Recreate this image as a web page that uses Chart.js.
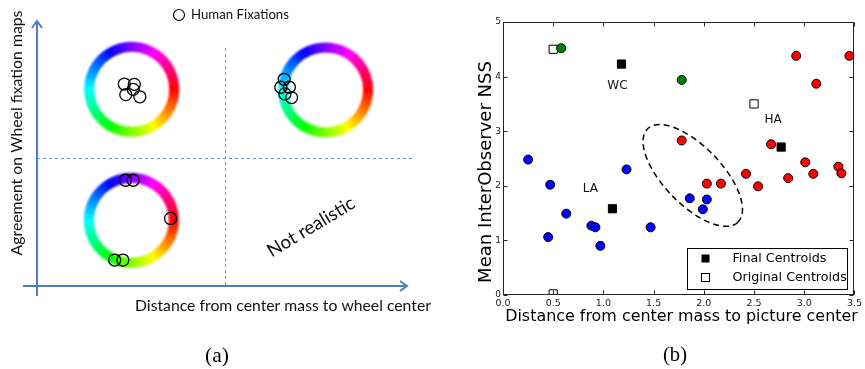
<!DOCTYPE html>
<html>
<head>
<meta charset="utf-8">
<script src="https://cdn.jsdelivr.net/npm/chart.js@4.4.1/dist/chart.umd.min.js"></script>
<style>
  body { margin: 0; background: #fff; }
  #wrap { position: relative; width: 865px; height: 369px; overflow: hidden; }
  canvas { position: absolute; top: 0; }
  #chartA { left: 0; }
  #chartB { left: 450px; }
</style>
</head>
<body>
<div id="wrap">
  <canvas id="chartA" width="450" height="369"></canvas>
  <canvas id="chartB" width="415" height="369"></canvas>
</div>
<script>
// ---- panel (a): schematic, diagram units 0..10 on both axes
const quadSplitX = 5.08;
const quadSplitY = 4.83;
const wheelX = [2.56, 7.80, 2.55];
const wheelY = [7.42, 7.40, 2.48];
const fixX = [2.36, 2.63, 2.40, 2.60, 2.78, 6.68, 6.59, 6.82, 6.70, 6.88, 2.39, 2.60, 3.61, 2.10, 2.32];
const fixY = [7.62, 7.61, 7.22, 7.42, 7.14, 7.80, 7.50, 7.50, 7.25, 7.11, 3.99, 3.99, 2.55, 0.98, 0.98];

// ---- panel (b): scatter
const redX = [2.92, 3.45, 3.12, 1.78, 2.67, 3.01, 3.34, 3.37, 3.09, 2.84, 2.42, 2.03, 2.17, 2.54];
const redY = [4.38, 4.38, 3.87, 2.83, 2.76, 2.43, 2.35, 2.23, 2.22, 2.14, 2.22, 2.04, 2.04, 1.99];
const blueX = [0.25, 1.23, 0.47, 0.63, 1.86, 2.03, 1.99, 0.88, 0.92, 1.47, 0.45, 0.97];
const blueY = [2.48, 2.30, 2.02, 1.49, 1.77, 1.75, 1.57, 1.27, 1.24, 1.24, 1.06, 0.90];
const greenX = [0.58, 1.78];
const greenY = [4.52, 3.94];
const finalX = [1.18, 2.77, 1.09];
const finalY = [4.23, 2.71, 1.58];
const origX = [0.50, 2.50, 0.50];
const origY = [4.50, 3.50, 0.02];
const clusterNames = ['WC', 'HA', 'LA'];
const clusterLabelX = [1.14, 2.69, 0.87];
const clusterLabelY = [3.83, 3.20, 1.94];
const ellipseCenter = [1.89, 2.19];
const xMax = 3.5, xStep = 0.5;
const yMax = 5, yStep = 1;

function pts(xs, ys) {
  return xs.map((x, i) => ({ x: x, y: ys[i] }));
}

function fitText(ctx, text, x, y, width, family) {
  ctx.font = '100px ' + family;
  const size = 100 * width / ctx.measureText(text).width;
  ctx.font = size + 'px ' + family;
  ctx.fillText(text, x, y);
}

function drawWheel(ctx, cx, cy) {
  const g = ctx.createConicGradient(0, cx, cy);
  for (let i = 0; i <= 12; i++) g.addColorStop(i / 12, `hsl(${i * 30}, 100%, 50%)`);
  ctx.save();
  ctx.filter = 'blur(0.8px)';
  ctx.beginPath();
  ctx.arc(cx, cy, 47.5, 0, Math.PI * 2);
  ctx.arc(cx, cy, 37.5, 0, Math.PI * 2, true);
  ctx.fillStyle = g;
  ctx.fill();
  ctx.restore();
}

const schematicPlugin = {
  id: 'schematic',
  beforeDatasetsDraw(chart) {
    const { ctx, chartArea: a, scales: { x, y } } = chart;
    ctx.save();
    // quadrant dividers
    ctx.strokeStyle = '#5b95d8';
    ctx.lineWidth = 1;
    ctx.setLineDash([3, 3]);
    const vx = Math.round(x.getPixelForValue(quadSplitX)) + 0.5;
    const hy = Math.round(y.getPixelForValue(quadSplitY)) + 0.5;
    ctx.beginPath();
    ctx.moveTo(vx, a.top + 27);
    ctx.lineTo(vx, a.bottom);
    ctx.moveTo(a.left, hy);
    ctx.lineTo(a.right + 5, hy);
    ctx.stroke();
    ctx.setLineDash([]);

    for (let i = 0; i < wheelX.length; i++) {
      drawWheel(ctx, x.getPixelForValue(wheelX[i]), y.getPixelForValue(wheelY[i]));
    }

    // axes with arrow heads
    ctx.strokeStyle = '#4a7fc1';
    ctx.lineWidth = 2;
    ctx.beginPath();
    ctx.moveTo(a.left, a.bottom + 10);
    ctx.lineTo(a.left, a.top);
    ctx.moveTo(a.left - 5, a.top + 7);
    ctx.lineTo(a.left, a.top);
    ctx.lineTo(a.left + 5, a.top + 7);
    ctx.moveTo(a.left - 14, a.bottom);
    ctx.lineTo(a.right, a.bottom);
    ctx.moveTo(a.right - 7, a.bottom - 5);
    ctx.lineTo(a.right, a.bottom);
    ctx.lineTo(a.right - 7, a.bottom + 5);
    ctx.stroke();

    // texts
    ctx.fillStyle = '#111';
    ctx.textBaseline = 'middle';
    ctx.textAlign = 'left';
    fitText(ctx, 'Human Fixations', 191, 15, 98, 'Lato');
    ctx.beginPath();
    ctx.lineWidth = 1.2;
    ctx.strokeStyle = '#000';
    ctx.arc(179, 15, 5.5, 0, Math.PI * 2);
    ctx.stroke();

    ctx.textAlign = 'center';
    fitText(ctx, 'Distance from center mass to wheel center', 283, 306, 296, 'Lato');

    ctx.save();
    ctx.translate(17, 133);
    ctx.rotate(-Math.PI / 2);
    fitText(ctx, 'Agreement on Wheel fixation maps', 0, 0, 245, 'Lato');
    ctx.restore();

    ctx.save();
    ctx.translate(311, 227);
    ctx.rotate(-31 * Math.PI / 180);
    fitText(ctx, 'Not realistic', 0, 0, 99, 'Lato');
    ctx.restore();

    ctx.fillStyle = '#000';
    fitText(ctx, '(a)', 217, 356, 24, '"Liberation Serif"');
    ctx.restore();
  }
};

new Chart(document.getElementById('chartA'), {
  type: 'scatter',
  data: {
    datasets: [{
      label: 'Human Fixations',
      data: pts(fixX, fixY),
      pointStyle: 'circle',
      pointRadius: 6,
      backgroundColor: 'rgba(0,0,0,0)',
      borderColor: '#000',
      borderWidth: 1.3,
      clip: false
    }]
  },
  options: {
    responsive: false,
    animation: false,
    devicePixelRatio: 1,
    events: [],
    layout: { padding: { left: 37, right: 43, top: 21, bottom: 83 } },
    scales: {
      x: { type: 'linear', min: 0, max: 10, display: false },
      y: { type: 'linear', min: 0, max: 10, display: false }
    },
    plugins: { legend: { display: false }, tooltip: { enabled: false } }
  },
  plugins: [schematicPlugin]
});

// ---- panel (b)
const framePlugin = {
  id: 'frame',
  beforeDatasetsDraw(chart) {
    const { ctx, scales: { x, y } } = chart;
    const c = x.getPixelForValue(ellipseCenter[0]);
    const m = y.getPixelForValue(ellipseCenter[1]);
    ctx.save();
    ctx.strokeStyle = '#000';
    ctx.lineWidth = 1.5;
    ctx.setLineDash([6, 4]);
    ctx.beginPath();
    ctx.ellipse(c, m, 65, 29, 46 * Math.PI / 180, 0, Math.PI * 2);
    ctx.stroke();
    ctx.restore();
  },
  afterDraw(chart) {
    const { ctx, chartArea: a, scales: { x, y } } = chart;
    ctx.save();
    ctx.strokeStyle = '#222';
    ctx.lineWidth = 1;
    const L = Math.round(a.left) + 0.5, R = Math.round(a.right) - 0.5;
    const T = Math.round(a.top) + 0.5, B = Math.round(a.bottom) - 0.5;
    ctx.strokeRect(L, T, R - L, B - T);
    ctx.beginPath();
    x.ticks.forEach(t => {
      const p = Math.round(x.getPixelForValue(t.value)) + 0.5;
      ctx.moveTo(p, B); ctx.lineTo(p, B - 4);
      ctx.moveTo(p, T); ctx.lineTo(p, T + 4);
    });
    y.ticks.forEach(t => {
      const p = Math.round(y.getPixelForValue(t.value)) + 0.5;
      ctx.moveTo(L, p); ctx.lineTo(L + 4, p);
      ctx.moveTo(R, p); ctx.lineTo(R - 4, p);
    });
    ctx.stroke();

    // cluster names
    ctx.fillStyle = '#111';
    ctx.textAlign = 'center';
    ctx.textBaseline = 'middle';
    ctx.font = '12px "DejaVu Sans"';
    clusterNames.forEach((n, i) => {
      ctx.fillText(n, x.getPixelForValue(clusterLabelX[i]), y.getPixelForValue(clusterLabelY[i]));
    });

    // legend box
    const bw = 160, bh = 41;
    const bx = Math.round(a.right - 7 - bw) + 0.5, by = Math.round(a.bottom - 6 - bh) + 0.5;
    ctx.fillStyle = '#fff';
    ctx.fillRect(bx, by, bw, bh);
    ctx.strokeStyle = '#000';
    ctx.strokeRect(bx, by, bw, bh);
    ctx.fillStyle = '#000';
    ctx.fillRect(bx + 14, by + 6, 8, 8);
    ctx.strokeRect(bx + 14, by + 25, 8, 8);
    ctx.textAlign = 'left';
    ctx.font = '12.7px "DejaVu Sans"';
    ctx.fillText('Final Centroids', bx + 45, by + 10.5);
    ctx.fillText('Original Centroids', bx + 45, by + 29.5);

    // axis titles
    ctx.fillStyle = '#000';
    ctx.textAlign = 'center';
    fitText(ctx, 'Distance from center mass to picture center', 231.5, 317, 353, '"DejaVu Sans"');
    ctx.save();
    ctx.translate(36, 172);
    ctx.rotate(-Math.PI / 2);
    fitText(ctx, 'Mean InterObserver NSS', 0, 0, 222, '"DejaVu Sans"');
    ctx.restore();
    fitText(ctx, '(b)', 225, 356, 24, '"Liberation Serif"');
    ctx.restore();
  }
};

const dotStyle = { pointStyle: 'circle', pointRadius: 4.5, borderColor: '#000', borderWidth: 1, clip: 0, order: 1 };

new Chart(document.getElementById('chartB'), {
  type: 'scatter',
  data: {
    datasets: [
      Object.assign({ label: 'cluster HA', data: pts(redX, redY), backgroundColor: '#ff0000' }, dotStyle),
      Object.assign({ label: 'cluster LA', data: pts(blueX, blueY), backgroundColor: '#0000ff' }, dotStyle),
      Object.assign({ label: 'cluster WC', data: pts(greenX, greenY), backgroundColor: '#008000' }, dotStyle),
      { label: 'Final Centroids', data: pts(finalX, finalY), pointStyle: 'rect', pointRadius: 5.8,
        backgroundColor: '#000', borderColor: '#000', borderWidth: 1, clip: 0, order: 2 },
      { label: 'Original Centroids', data: pts(origX, origY), pointStyle: 'rect', pointRadius: 5.8,
        backgroundColor: '#fff', borderColor: '#000', borderWidth: 1, clip: 0, order: 2 }
    ]
  },
  options: {
    responsive: false,
    animation: false,
    devicePixelRatio: 1,
    events: [],
    layout: { padding: { left: 0, right: 6, top: 22, bottom: 0 } },
    scales: {
      x: {
        type: 'linear', min: 0, max: xMax,
        grid: { display: false, drawTicks: false },
        border: { display: false },
        ticks: { stepSize: xStep, padding: 3, maxRotation: 0, autoSkip: false, color: '#222',
                 font: { family: 'DejaVu Sans', size: 9.5 }, callback: v => v.toFixed(1) },
        afterFit(s) { s.height = 74; }
      },
      y: {
        type: 'linear', min: 0, max: yMax,
        grid: { display: false, drawTicks: false },
        border: { display: false },
        ticks: { stepSize: yStep, padding: 2, color: '#222', font: { family: 'DejaVu Sans', size: 9 } },
        afterFit(s) { s.width = 53; }
      }
    },
    plugins: { legend: { display: false }, tooltip: { enabled: false } }
  },
  plugins: [framePlugin]
});
</script>
</body>
</html>
